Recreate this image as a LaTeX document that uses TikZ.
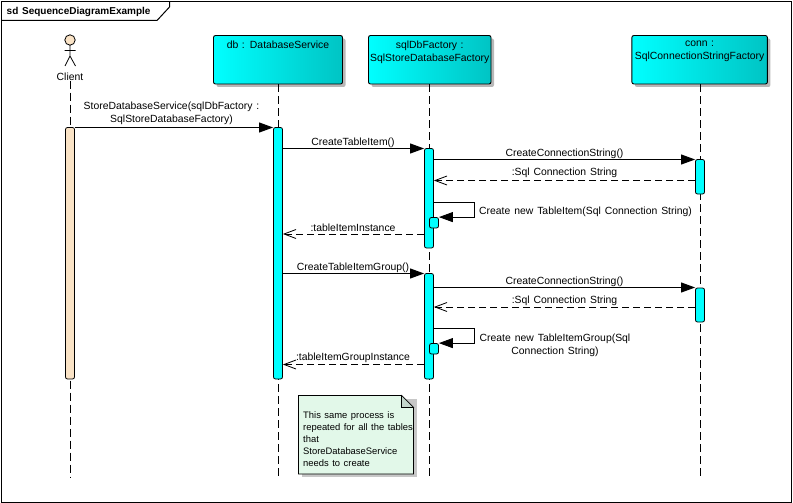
\documentclass[tikz,border=0pt]{standalone}
\usepackage{fontspec}
\setmainfont[WordSpace=1.35]{Liberation Sans}
\usepackage{xcolor}
\usetikzlibrary{arrows.meta,positioning,shadows}
\definecolor{objcyan}{HTML}{00FFFF}
\definecolor{objdark}{HTML}{00C4C4}
\definecolor{clientcolor}{HTML}{FAE3C6}
\definecolor{notecolor}{HTML}{E2F8E9}
\definecolor{foldcolor}{HTML}{C4D6CC}
\newcommand{\objtext}[1]{\parbox[c][37pt][t]{\linewidth}{\centering #1}}

\begin{document}
\begin{tikzpicture}[
  x=1pt, y=-1pt,
  font=\fontsize{10.4}{12.8}\selectfont,
  objbox/.style={rectangle, rounded corners=2pt, draw=black, line width=0.9pt, inner sep=0pt, text width=#1, align=center, minimum height=48.5pt, left color=objcyan, middle color=objcyan, right color=objdark, general shadow={shadow xshift=3pt, shadow yshift=-3pt, fill=black!28}},
  actbar/.style={rectangle, rounded corners=2pt, draw=black, line width=0.8pt, fill=objcyan, minimum width=9pt, inner sep=0pt},
  lifeline/.style={line width=0.9pt, dash pattern=on 8pt off 4pt},
  syncmsg/.style={-{Triangle[length=14pt,width=10pt]}, line width=0.9pt},
  retmsg/.style={-{Straight Barb[length=12pt,width=9pt]}, line width=0.8pt, dash pattern=on 7pt off 4pt},
  msglabel/.style={inner sep=0pt, align=center}
]
\useasboundingbox (0,0) rectangle (793,503);
% frame
\draw[line width=1pt] (1.5,1.5) rectangle (791.5,502);
\draw[line width=1pt] (1.5,20.5) -- (157,20.5) -- (169.5,7) -- (169.5,1.5);
\node[inner sep=0pt, anchor=west, font=\fontsize{10}{12.8}\selectfont\bfseries] (frametitle) at (6.5,12) {sd SequenceDiagramExample};

% actor
\draw[line width=0.8pt, fill=clientcolor] (70,40) circle (5.2);
\draw[line width=0.8pt] (70,45.2) -- (70,56) (64.5,50.5) -- (75.5,50.5) (65,66) -- (70,56) -- (75.5,66);
\node[msglabel] (client) at (70,76.5) {Client};

% objects
\node[objbox=129pt] (db) at (278,59.75) {\objtext{db : DatabaseService}};
\node[objbox=122.5pt, right=25.1pt of db] (factory) {\objtext{sqlDbFactory :\\SqlStoreDatabaseFactory}};
\node[objbox=135.5pt, right=140pt of factory] (conn) {\objtext{conn :\\SqlConnectionStringFactory}};

% lifelines
\foreach \obj/\lx in {client/70, db/278, factory/429.5, conn/700} {
  \coordinate (\obj end) at (\lx,478);
  \draw[lifeline] (\obj.south -| \obj end) -- (\obj end);
}

% activation bars
\node[actbar, fill=clientcolor, minimum height=251.5pt] (clientbar) at (70,253.25) {};
\node[actbar, minimum height=251.5pt] (dbbar) at (278,253.25) {};
\node[actbar, minimum height=99.5pt] (factorybar1) at (429,198.25) {};
\node[actbar, minimum height=105.5pt] (factorybar2) at (429,326.25) {};
\node[actbar, minimum height=34.5pt] (connbar1) at (700,176.75) {};
\node[actbar, minimum height=34pt] (connbar2) at (700,305) {};
\node[actbar, minimum height=10.5pt] (selfbar1) at (434,222.75) {};
\node[actbar, minimum height=10.5pt] (selfbar2) at (434,348.75) {};

% message rows
\coordinate (row1) at (0,127.5);
\coordinate (row2) at (0,148.5);
\coordinate (row3) at (0,159.5);
\coordinate (row4) at (0,180.5);
\coordinate (row5) at (0,234);
\coordinate (row6) at (0,273.5);
\coordinate (row7) at (0,287.5);
\coordinate (row8) at (0,307);
\coordinate (row9) at (0,364.5);
\coordinate (turn1) at (474.5,202.5);
\coordinate (turn2) at (474.5,328.5);

\draw[syncmsg] (clientbar.east |- row1) -- (dbbar.west |- row1);
\draw[syncmsg] (dbbar.east |- row2) -- (factorybar1.west |- row2);
\draw[syncmsg] (factorybar1.east |- row3) -- (connbar1.west |- row3);
\draw[retmsg] (connbar1.west |- row4) -- (factorybar1.east |- row4);
\draw[syncmsg] (factorybar1.east |- turn1) -- (turn1) |- (selfbar1.north east);
\draw[retmsg] (factorybar1.west |- row5) -- (dbbar.east |- row5);
\draw[syncmsg] (dbbar.east |- row6) -- (factorybar2.west |- row6);
\draw[syncmsg] (factorybar2.east |- row7) -- (connbar2.west |- row7);
\draw[retmsg] (connbar2.west |- row8) -- (factorybar2.east |- row8);
\draw[syncmsg] (factorybar2.east |- turn2) -- (turn2) |- (selfbar2.north east);
\draw[retmsg] (factorybar2.west |- row9) -- (dbbar.east |- row9);

% message labels
\node[msglabel] (msg1) at (171.5,113) {StoreDatabaseService(sqlDbFactory :\\SqlStoreDatabaseFactory)};
\node[msglabel] (msg2) at (353,142.5) {CreateTableItem()};
\node[msglabel] (msg3) at (564.5,153.5) {CreateConnectionString()};
\node[msglabel] (msg4) at (564.5,172.5) {:Sql Connection String};
\node[msglabel, anchor=west] (msg5) at (479,212) {Create new TableItem(Sql Connection String)};
\node[msglabel] (msg6) at (353,228) {:tableItemInstance};
\node[msglabel] (msg7) at (353,267.5) {CreateTableItemGroup()};
\node[msglabel] (msg8) at (564.5,281.5) {CreateConnectionString()};
\node[msglabel] (msg9) at (564.5,301) {:Sql Connection String};
\node[msglabel] (msg10) at (555,345) {Create new TableItemGroup(Sql\\Connection String)};
\node[msglabel] (msg11) at (353,358) {:tableItemGroupInstance};

% note
\fill[black!22] (301.5,398.5) rectangle (416.5,477);
\draw[line width=0.9pt, fill=notecolor] (298.5,395.5) -- (401.5,395.5) -- (413.5,407.5) -- (413.5,474) -- (298.5,474) -- cycle;
\draw[line width=0.7pt, fill=foldcolor] (401.5,395.5) -- (401.5,407.5) -- (413.5,407.5) -- cycle;
\node[inner sep=0pt, anchor=north west, align=left, font=\fontsize{9.4}{12}\selectfont] (notetext) at (303,411.5) {This same process is\\repeated for all the tables\\that\\StoreDatabaseService\\needs to create};
\end{tikzpicture}
\end{document}
